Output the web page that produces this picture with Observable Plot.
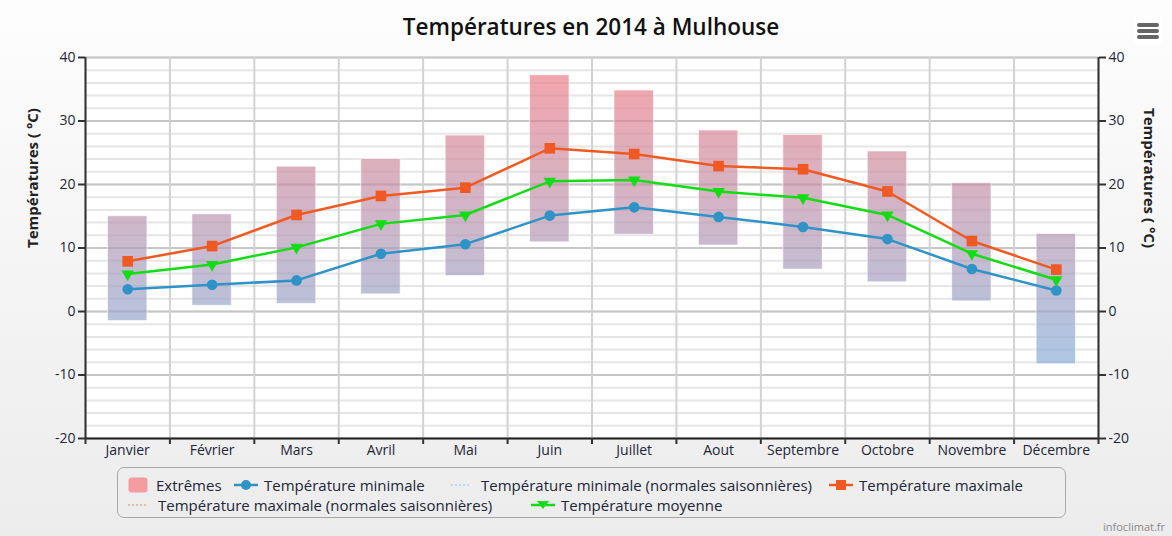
<!DOCTYPE html>
<html>
<head>
<meta charset="utf-8">
<script src="https://cdn.jsdelivr.net/npm/d3@7"></script>
<script src="https://cdn.jsdelivr.net/npm/@observablehq/plot@0.6"></script>
<style>
  html, body { margin: 0; padding: 0; }
  body { width: 1172px; height: 536px; overflow: hidden; font-family: "Open Sans", sans-serif; }
  #wrap { position: relative; width: 1172px; height: 536px; background: linear-gradient(#fdfdfd, #ececec); }
  #title { position: absolute; left: 0; width: 1182px; top: 11px; text-align: center; font-size: 22.5px; font-weight: 600; color: #111; }
  #chart { position: absolute; left: 0; top: 0; }
  #menu { position: absolute; left: 1133px; top: 16px; width: 30px; height: 29px; background: #fff; border-radius: 3px; }
  #menu div { position: absolute; left: 4px; width: 22px; height: 4px; background: #666; border-radius: 2px; }
  #legend { position: absolute; left: 117px; top: 467px; width: 949px; height: 51px; border: 1px solid #a8a8a8; border-radius: 7px; box-sizing: border-box; }
  .li { position: absolute; font-size: 15px; color: #222638; white-space: nowrap; line-height: 16px; height: 16px; }
  .li svg { position: absolute; }
  #credit { position: absolute; right: 7px; top: 519px; font-size: 11px; color: #8a8a8a; }
</style>
</head>
<body>
<div id="wrap">
  <div id="chart"></div>
  <div id="title">Températures en 2014 à Mulhouse</div>
  <div id="menu"><div style="top:7px"></div><div style="top:13px"></div><div style="top:19px"></div></div>
  <div id="legend"></div>
  <div id="credit">infoclimat.fr</div>
</div>
<script>
const months = ["Janvier","Février","Mars","Avril","Mai","Juin","Juillet","Aout","Septembre","Octobre","Novembre","Décembre"];
const extremeLow  = [-1.5, 0.9, 1.2, 2.7, 5.6, 10.9, 12.1, 10.4, 6.6, 4.6, 1.6, -8.3];
const extremeHigh = [15.0, 15.3, 22.8, 24.0, 27.7, 37.2, 34.8, 28.5, 27.8, 25.2, 20.2, 12.2];
const tempMin  = [3.5, 4.2, 4.9, 9.1, 10.6, 15.1, 16.4, 14.9, 13.3, 11.4, 6.7, 3.3];
const tempMax  = [7.9, 10.3, 15.2, 18.2, 19.5, 25.7, 24.8, 22.9, 22.4, 18.9, 11.1, 6.6];
const tempMean = [5.9, 7.4, 10.1, 13.8, 15.2, 20.5, 20.7, 18.9, 17.9, 15.2, 9.1, 5.0];
const yTicks = [-20, -10, 0, 10, 20, 30, 40];
const yMinor = d3.range(-20, 41, 2);

const colMin = "#2f93c8", colMax = "#f05a22", colMean = "#14dc14";

const rows = months.map((m, i) => ({
  i, month: m, lo: extremeLow[i], hi: extremeHigh[i],
  min: tempMin[i], max: tempMax[i], mean: tempMean[i]
}));
const mid = d => d.i + 0.5;

const chart = Plot.plot({
  width: 1172, height: 460,
  marginTop: 57, marginBottom: 22, marginLeft: 85, marginRight: 74,
  x: { domain: [0, 12], axis: null, label: null },
  y: { domain: [-20, 40], axis: null, label: null },
  style: { background: "transparent", fontFamily: "Open Sans, sans-serif", fontSize: "14px", color: "#222638" },
  marks: [
    Plot.frame({ fill: "white", stroke: null }),
    Plot.ruleY(yMinor, { stroke: "#e6e6e6", strokeWidth: 2 }),
    Plot.ruleY(yTicks, { stroke: "#c6c6c6", strokeWidth: 2 }),
    Plot.ruleX(d3.range(0, 13), { stroke: "#d2d2d2", strokeWidth: 2 }),
    Plot.rectY(rows, { x1: "i", x2: d => d.i + 1, y1: "lo", y2: "hi", insetLeft: 22.5, insetRight: 22.5, fill: "url(#extGrad)", stroke: "white", strokeOpacity: 0.6, strokeWidth: 1 }),
    Plot.line(rows, { x: mid, y: "min", stroke: colMin, strokeWidth: 2.5 }),
    Plot.line(rows, { x: mid, y: "mean", stroke: colMean, strokeWidth: 2.5 }),
    Plot.line(rows, { x: mid, y: "max", stroke: colMax, strokeWidth: 2.5 }),
    Plot.dot(rows, { x: mid, y: "min", r: 5.3, fill: colMin, stroke: null }),
    Plot.dot(rows, { x: mid, y: "mean", symbol: "triangle", r: 4.6, rotate: 180, fill: colMean, stroke: null }),
    Plot.dot(rows, { x: mid, y: "max", symbol: "square", r: 6, fill: colMax, stroke: null }),
    Plot.ruleX([0, 12], { stroke: "#333", strokeWidth: 2 }),
    Plot.ruleY([-20], { stroke: "#222", strokeWidth: 2 }),
    Plot.axisY(yTicks, { anchor: "left", label: null, tickSize: 7, tickPadding: 3, stroke: "#333", strokeWidth: 2, fontSize: 14, tickFormat: d => String(d) }),
    Plot.axisY(yTicks, { anchor: "right", label: null, tickSize: 7, tickPadding: 3, stroke: "#333", strokeWidth: 2, fontSize: 14, tickFormat: d => String(d) }),
    Plot.axisX(d3.range(0, 13), { anchor: "bottom", label: null, tickSize: 6, tickFormat: () => "", stroke: "#333", strokeWidth: 2 }),
    Plot.axisX(d3.range(0.5, 12, 1), { anchor: "bottom", label: null, tickSize: 0, tickPadding: 7, tickFormat: d => months[Math.floor(d)], fontSize: 14 }),
    Plot.text(["Températures ( °C)"], { frameAnchor: "left", dx: -52, rotate: -90, fontWeight: "bold", fontSize: 15, fill: "#222" }),
    Plot.text(["Températures ( °C)"], { frameAnchor: "right", dx: 50, rotate: 90, fontWeight: "bold", fontSize: 15, fill: "#222" })
  ]
});

// gradient for extremes, positioned through the y scale
const sy = chart.scale("y");
const ns = "http://www.w3.org/2000/svg";
const defs = document.createElementNS(ns, "defs");
const grad = document.createElementNS(ns, "linearGradient");
grad.setAttribute("id", "extGrad");
grad.setAttribute("gradientUnits", "userSpaceOnUse");
grad.setAttribute("x1", 0); grad.setAttribute("x2", 0);
grad.setAttribute("y1", sy.apply(40)); grad.setAttribute("y2", sy.apply(-10));
[["0", "rgb(242,120,128)"], ["1", "rgb(130,175,220)"]].forEach(([o, c]) => {
  const s = document.createElementNS(ns, "stop");
  s.setAttribute("offset", o); s.setAttribute("stop-color", c); s.setAttribute("stop-opacity", 0.68);
  grad.appendChild(s);
});
defs.appendChild(grad);
chart.insertBefore(defs, chart.firstChild);
document.getElementById("chart").appendChild(chart);

// legend
const legendItems = [
  { label: "Extrêmes", type: "swatch", x: 10, y: 10 },
  { label: "Température minimale", type: "circle", color: colMin, x: 116, y: 10 },
  { label: "Température minimale (normales saisonnières)", type: "dash", color: "#8fc0de", x: 333, y: 10 },
  { label: "Température maximale", type: "square", color: colMax, x: 711, y: 10 },
  { label: "Température maximale (normales saisonnières)", type: "dash", color: "#f2875f", x: 10, y: 30 },
  { label: "Température moyenne", type: "triangle", color: colMean, x: 413, y: 30 }
];
const leg = document.getElementById("legend");
legendItems.forEach(it => {
  const d = document.createElement("div");
  d.className = "li";
  d.style.left = it.x + "px";
  d.style.top = (it.y - 1) + "px";
  d.style.paddingLeft = (it.type === "swatch" ? 28 : 30) + "px";
  let svg = "";
  if (it.type === "swatch") {
    svg = `<svg width="20" height="16" style="left:0;top:0"><rect x="0.5" y="0.5" width="19" height="15" rx="3" fill="#f49ca0"/></svg>`;
  } else if (it.type === "dash") {
    svg = `<svg width="22" height="16" style="left:0;top:0"><line x1="0" x2="20" y1="8" y2="8" stroke="${it.color}" stroke-width="1" stroke-dasharray="2,2"/></svg>`;
  } else {
    let m = "";
    if (it.type === "circle") m = `<circle cx="12" cy="8" r="5" fill="${it.color}"/>`;
    if (it.type === "square") m = `<rect x="7" y="3" width="10" height="10" fill="${it.color}"/>`;
    if (it.type === "triangle") m = `<path d="M6,4 L18,4 L12,12 Z" fill="${it.color}"/>`;
    svg = `<svg width="24" height="16" style="left:0;top:0"><line x1="0" x2="24" y1="8" y2="8" stroke="${it.color}" stroke-width="2.5"/>${m}</svg>`;
  }
  d.innerHTML = svg + it.label;
  leg.appendChild(d);
});
</script>
</body>
</html>
